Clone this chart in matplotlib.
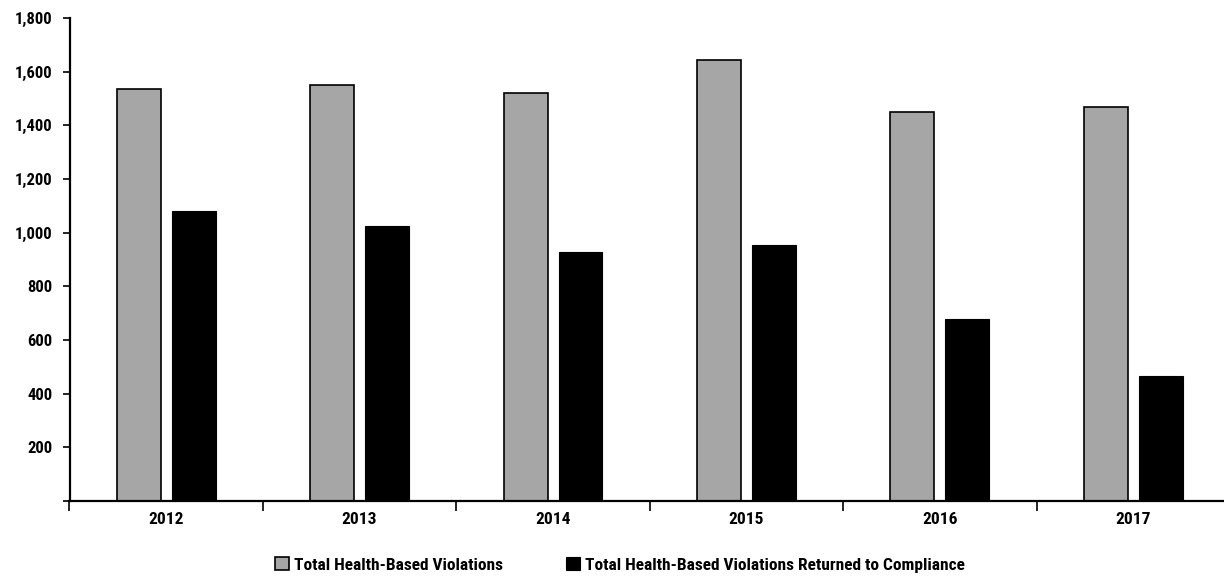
import matplotlib
matplotlib.use("Agg")
import matplotlib.pyplot as plt
import numpy as np
from matplotlib import font_manager

years = ["2012", "2013", "2014", "2015", "2016", "2017"]
total_violations = [1534, 1549, 1522, 1645, 1449, 1468]
returned_to_compliance = [1082, 1023, 929, 955, 680, 467]
series_labels = ["Total Health-Based Violations",
                 "Total Health-Based Violations Returned to Compliance"]
y_ticks = [0, 200, 400, 600, 800, 1000, 1200, 1400, 1600, 1800]

available = {f.name for f in font_manager.fontManager.ttflist}
family = [f for f in ["Liberation Sans Narrow", "Roboto Condensed", "DejaVu Sans Condensed"] if f in available]
family += ["DejaVu Sans"]
plt.rcParams["font.family"] = family
plt.rcParams["font.weight"] = "bold"

W, H = 1224, 577
fig = plt.figure(figsize=(W / 100, H / 100), dpi=100)
left, right, bottom, top = 69.5, 1230.0, 501.0, 18.0
ax = fig.add_axes([left / W, (H - bottom) / H, (right - left) / W, (bottom - top) / H])

x = np.arange(len(years))
width = 0.227
offset = 0.142
ax.bar(x - offset, total_violations, width, color="#a6a6a6", edgecolor="black",
       linewidth=1.2, label=series_labels[0])
ax.bar(x + offset, returned_to_compliance, width, color="black", edgecolor="black",
       linewidth=0.8, label=series_labels[1])

ax.set_xlim(-0.5, len(years) - 0.5)
ax.set_ylim(0, 1800)
ax.set_yticks(y_ticks)
ax.set_yticklabels(["" if v == 0 else f"{v:,}" for v in y_ticks])
ax.tick_params(axis="y", length=5, width=1.2, pad=7, labelsize=12)

# category labels centred, ticks on category boundaries
ax.set_xticks(x)
ax.set_xticklabels(years)
ax.set_xticks(np.arange(len(years)) - 0.5, minor=True)
ax.tick_params(axis="x", which="major", length=0, pad=8, labelsize=12.5)
ax.tick_params(axis="x", which="minor", length=7, width=1.2)

for s in ["top", "right"]:
    ax.spines[s].set_visible(False)
for s in ["left", "bottom"]:
    ax.spines[s].set_linewidth(1.6)

fig.legend(loc="center", bbox_to_anchor=(620 / W, (H - 565) / H), ncol=2,
           frameon=False, fontsize=12.5, handlelength=0.8, handleheight=0.8,
           handletextpad=0.3, columnspacing=3.6)

fig.savefig("out.png", dpi=100)
